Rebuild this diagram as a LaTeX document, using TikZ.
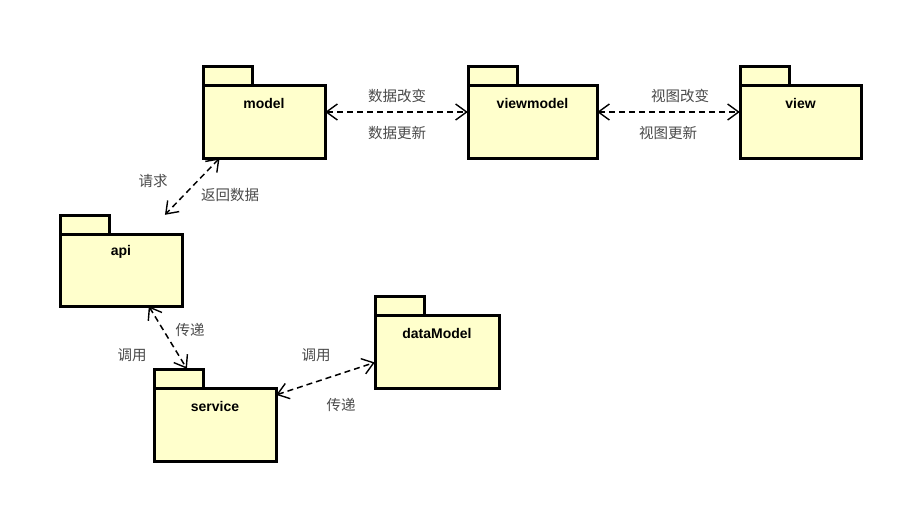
\documentclass[tikz,border=0pt]{standalone}
\usepackage{fontspec}
\setmainfont{Liberation Sans}
\newfontfamily\cjk{Noto Sans CJK SC}
\usetikzlibrary{arrows.meta,fit}
\definecolor{pkgfill}{HTML}{FFFFCC}
\definecolor{lbl}{HTML}{4A4A4A}
\tikzset{
  pkgline/.style={draw=black, fill=pkgfill, line width=3pt, line join=miter},
  pkgtitle/.style={font=\fontsize{14}{16}\selectfont\bfseries, inner sep=0pt},
  conn/.style={line width=1.5pt, dash pattern=on 6pt off 4pt,
    {Straight Barb[length=11pt,width=16pt,line width=1.4pt]}-{Straight Barb[length=11pt,width=16pt,line width=1.4pt]}},
  lab/.style={font=\cjk\fontsize{14.5}{16}\selectfont, text=lbl, inner sep=0pt},
}
\newcommand{\pkgbox}[6]{%
  \draw[pkgline] (#2,#3) rectangle (#2+49,#3+19);
  \draw[pkgline] (#2,#3+19) rectangle (#4,#5);
  \node[pkgtitle] (#1-title) at ({(#2+#4)/2},#3+37) {#6};
  \path (#2,#3) coordinate (#1-nw) (#4,#5) coordinate (#1-se);
  \node[fit=(#1-nw)(#1-se), inner sep=0pt] (#1) {};
}
\begin{document}
\begin{tikzpicture}[x=1pt,y=-1pt]
\useasboundingbox (0,0) rectangle (897,523);
\fill[white] (0,0) rectangle (897,523);
\pkgbox{model}{203}{66}{325}{158}{model}
\pkgbox{viewmodel}{468}{66}{597}{158}{viewmodel}
\pkgbox{view}{740}{66}{861}{158}{view}
\pkgbox{api}{60}{215}{182}{306}{api}
\pkgbox{service}{154}{369}{276}{461}{service}
\pkgbox{dataModel}{375}{296}{499}{388}{dataModel}

\draw[conn] (model) -- (viewmodel);
\draw[conn] (viewmodel) -- (view);
\draw[conn] (model) -- (api);
\draw[conn] (api) -- (service);
\draw[conn] (service) -- (dataModel);

\node[lab] (l1) at (397,96) {数据改变};
\node[lab] (l2) at (397,133) {数据更新};
\node[lab] (l3) at (680,96) {视图改变};
\node[lab] (l4) at (668,133) {视图更新};
\node[lab] (l5) at (153,181) {请求};
\node[lab] (l6) at (230,195) {返回数据};
\node[lab] (l7) at (190,330) {传递};
\node[lab] (l8) at (132,355) {调用};
\node[lab] (l9) at (316,355) {调用};
\node[lab] (l10) at (341,405) {传递};
\end{tikzpicture}
\end{document}
